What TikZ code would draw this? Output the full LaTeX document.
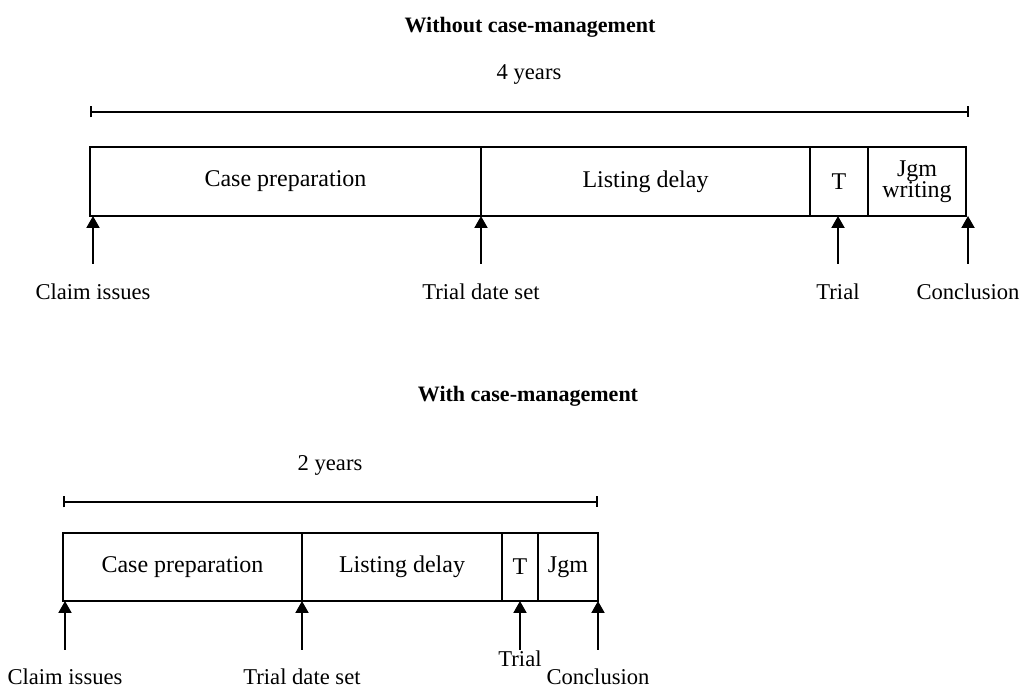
\documentclass[tikz,border=0pt]{standalone}
\usepackage{fontspec}
\setmainfont{Liberation Serif}
\usetikzlibrary{calc, positioning, chains, arrows.meta}

\begin{document}
\begin{tikzpicture}[x=0.5pt, y=-0.5pt, line width=1pt]

    \useasboundingbox (0,0) rectangle (1019,688); % same size as the reference, in px

    % styles: bar segments on a chain, labels under the arrows, the span above each bar
    \tikzset{seg/.style={draw, on chain, outer sep=0pt, inner sep=0pt, align=center,
                         font=\fontsize{12}{14}\selectfont},
             lbl/.style={font=\fontsize{11.3}{13}\selectfont, inner sep=0pt, anchor=base},
             ttl/.style={font=\bfseries\fontsize{11}{13}\selectfont},
             arr/.style={-{Triangle[width=6.5pt, length=6pt]}},
             span/.style={{Bar[width=5.5pt]}-{Bar[width=5.5pt]}}}

    %% without case-management
    \node [ttl] (title1) at (530,27) {Without case-management};
    \node [lbl] (yrs1)   at (529,80) {4 years};

    \begin{scope}[start chain=top going right, node distance=0pt, minimum height=34.5pt]
    \node [seg, minimum width=195.5pt, anchor=north west] (prep1) at (90,147) {Case preparation};
    \node [seg, minimum width=164.5pt] (delay1) {Listing delay};
    \node [seg, minimum width=29pt]    (trial1) {T};
    \node [seg, minimum width=49pt]    (jgm1)   {Jgm\\[-3.5pt]writing};
    \end{scope}

    \draw [span] ($(prep1.north west)+(0,-35)$) -- ($(jgm1.north east)+(3,-35)$);

    \node [lbl] (claim1) at (93,300)  {Claim issues};
    \node [lbl] (set1)   at (481,300) {Trial date set};
    \node [lbl] (tr1)    at (838,300) {Trial};
    \node [lbl] (conc1)  at (968,300) {Conclusion};

    \foreach \l in {claim1, set1, tr1, conc1}
        \draw [arr] (\l.north |- prep1.south) ++(0,48) -- (\l.north |- prep1.south);

    %% with case-management
    \node [ttl] (title2) at (528,396) {With case-management};
    \node [lbl] (yrs2)   at (330,471) {2 years};

    \begin{scope}[start chain=bot going right, node distance=0pt, minimum height=34pt]
    \node [seg, minimum width=119.5pt, anchor=north west] (prep2) at (63,533) {Case preparation};
    \node [seg, minimum width=100pt] (delay2) {Listing delay};
    \node [seg, minimum width=18pt]  (trial2) {T};
    \node [seg, minimum width=30pt]  (jgm2)   {Jgm};
    \end{scope}

    \draw [span] ($(prep2.north west)+(0,-31)$) -- ($(jgm2.north east)+(0,-31)$);

    \node [lbl] (claim2) at (65,685)  {Claim issues};
    \node [lbl] (set2)   at (302,685) {Trial date set};
    \node [lbl] (tr2)    at (520,667) {Trial};
    \node [lbl] (conc2)  at (598,685) {Conclusion};

    \foreach \l in {claim2, set2, tr2, conc2}
        \draw [arr] (\l.north |- prep2.south) ++(0,49) -- (\l.north |- prep2.south);

\end{tikzpicture}
\end{document}
